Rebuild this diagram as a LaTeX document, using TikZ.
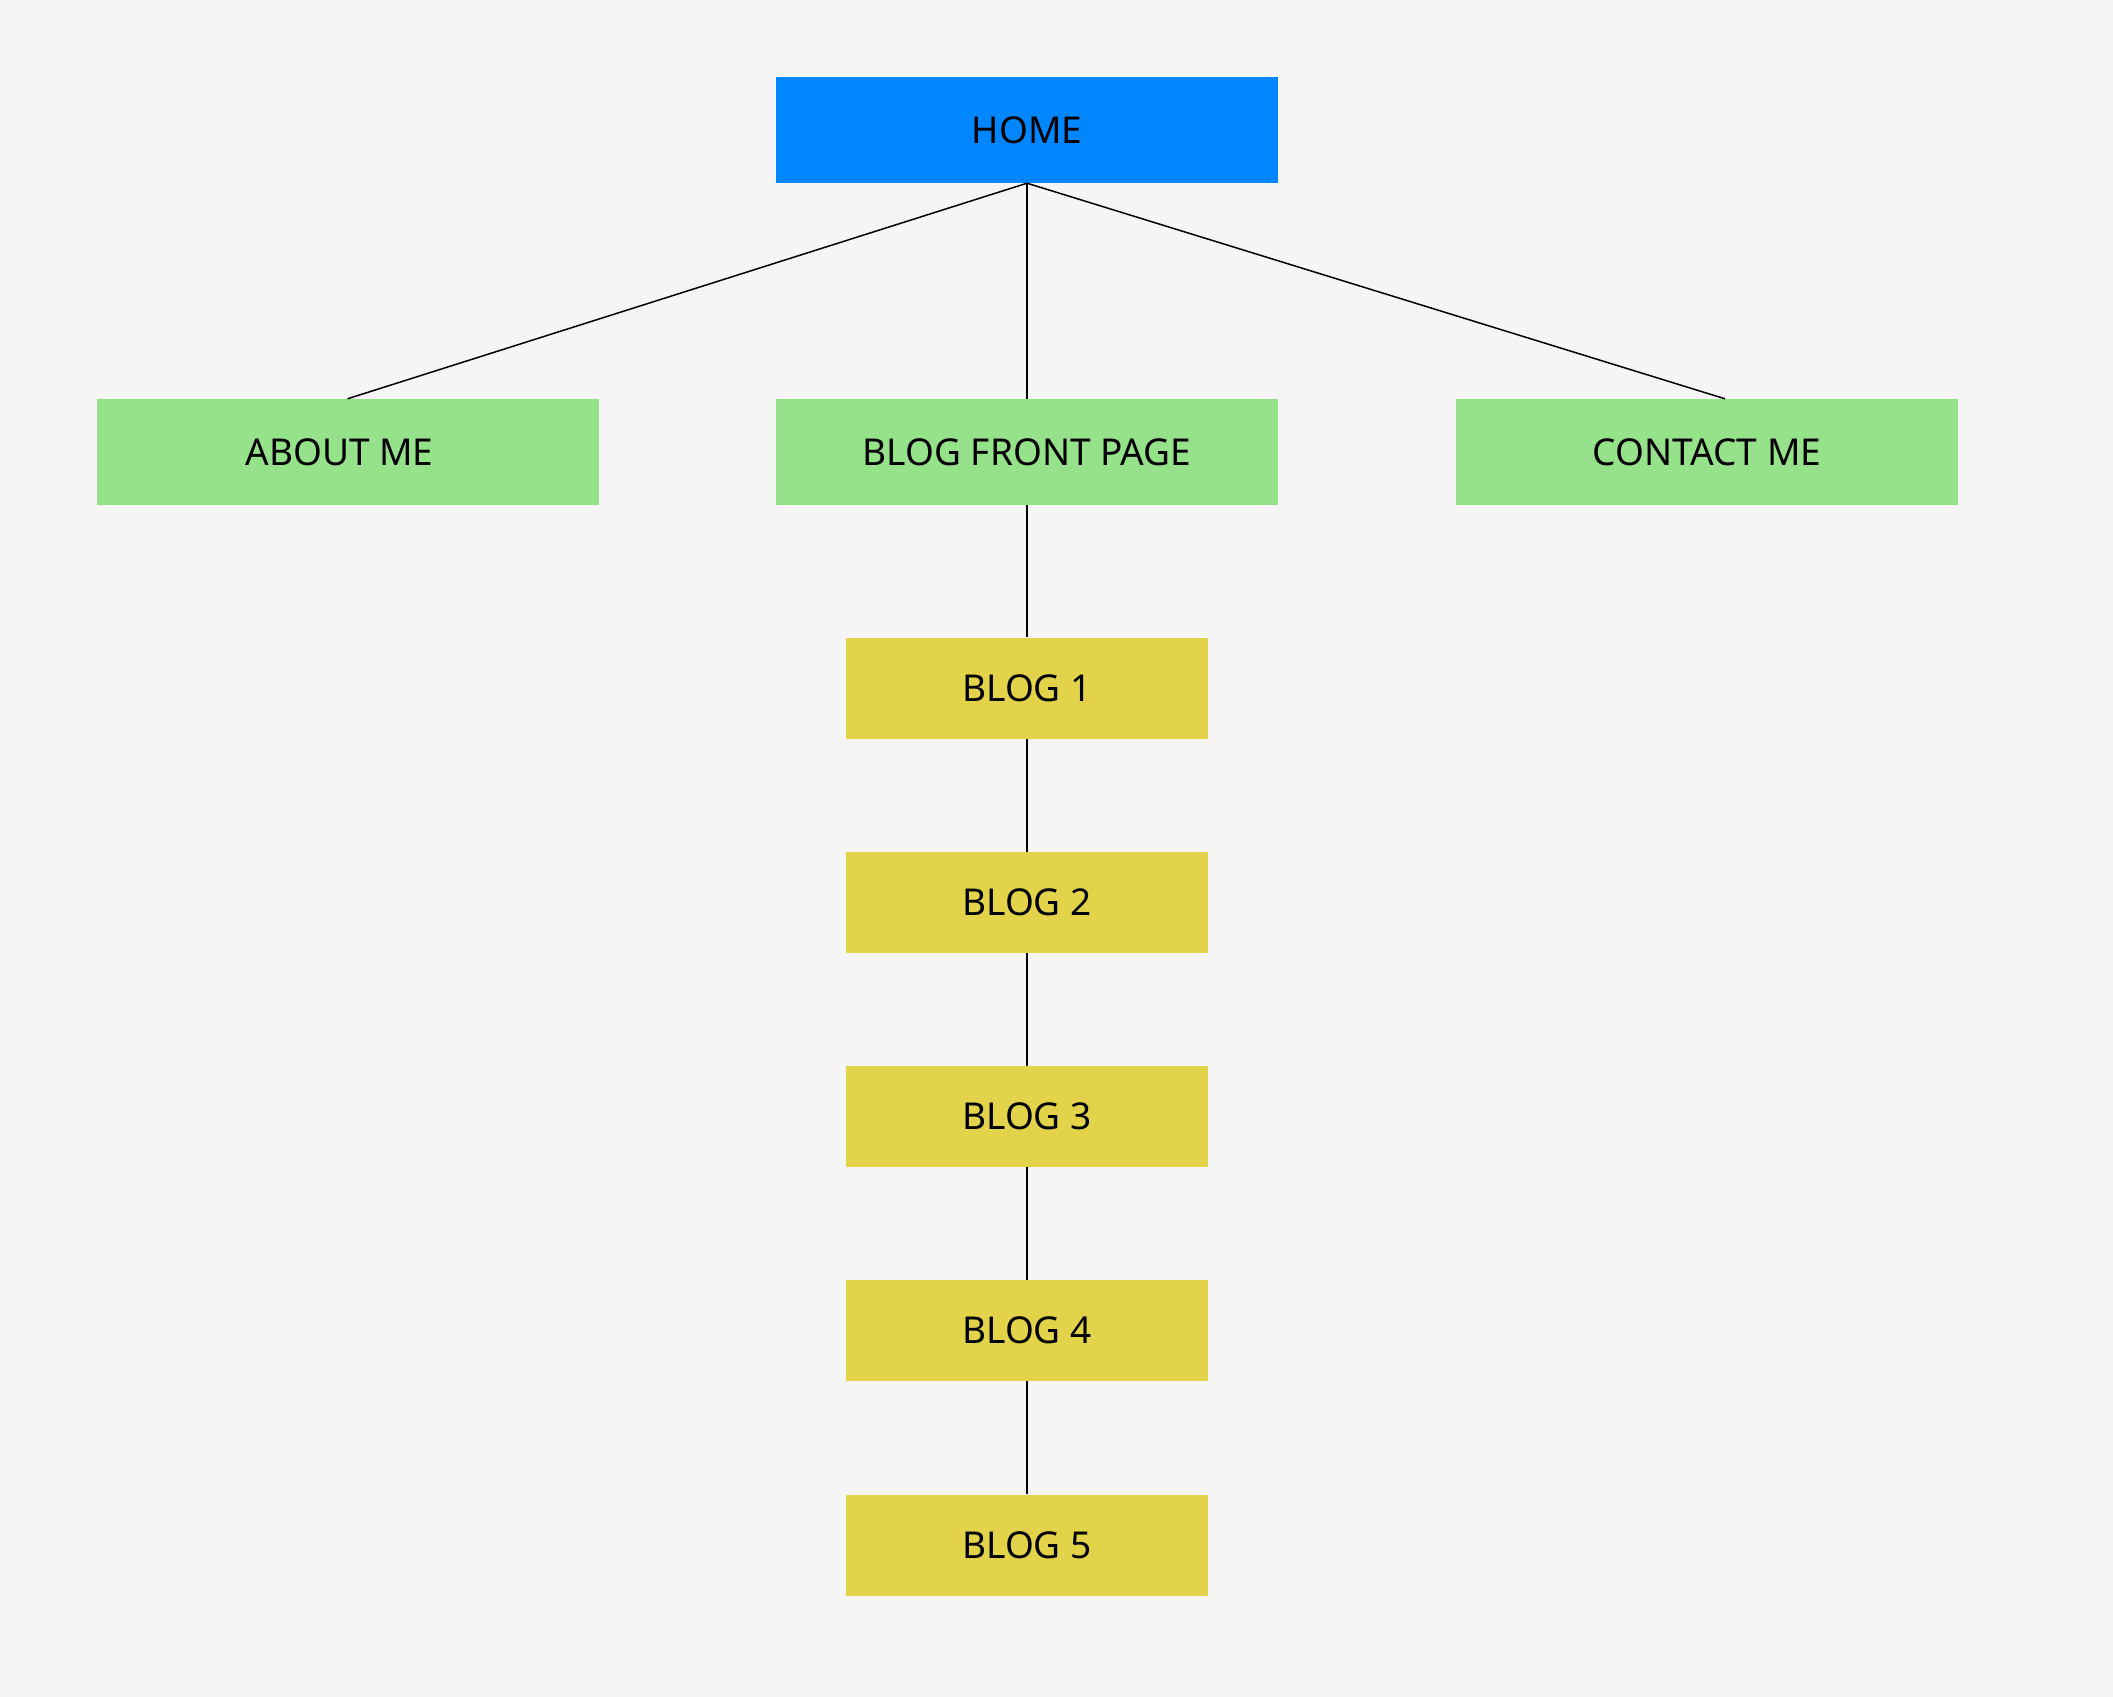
\documentclass[tikz,border=0pt]{standalone}
\usepackage{fontspec}
\setmainfont{Noto Sans}
\begin{document}
\begin{tikzpicture}[x=1pt,y=-1pt,
  box/.style={minimum height=106pt, minimum width=502pt, inner sep=0pt,
    font=\fontsize{37}{42}\selectfont, text=black},
  homebox/.style={box, fill=homeblue},
  pagebox/.style={box, fill=pagegreen},
  postbox/.style={box, fill=postyellow, minimum width=362pt, minimum height=101pt},
  link/.style={line width=1.5pt, draw=black}]
\definecolor{bg}{HTML}{F5F5F5}
\definecolor{homeblue}{HTML}{0086FF}
\definecolor{pagegreen}{HTML}{96E28A}
\definecolor{postyellow}{HTML}{E2D34A}
\fill[bg] (0,0) rectangle (2113,1697);
\useasboundingbox (0,0) rectangle (2113,1697);

\node[homebox] (home) at (1027,130) {HOME};
\node[pagebox] (about) at (347.5,452) {\hspace*{-16pt}ABOUT ME};
\node[pagebox] (front) at (1027,452) {BLOG FRONT PAGE};
\node[pagebox] (contact) at (1707,452) {CONTACT ME};
\node[postbox] (b1) at (1027,688) {BLOG 1};
\node[postbox] (b2) at (1027,902.5) {BLOG 2};
\node[postbox] (b3) at (1027,1116.5) {BLOG 3};
\node[postbox] (b4) at (1027,1330.5) {BLOG 4};
\node[postbox] (b5) at (1027,1545) {BLOG 5};

\coordinate (contacttop) at ([xshift=18pt]contact.north);
\draw[link] (home.south) -- (about.north);
\draw[link] (home.south) -- (front.north);
\draw[link] (home.south) -- (contacttop);
\draw[link] (front.south) -- (b1.north);
\draw[link] (b1.south) -- (b2.north);
\draw[link] (b2.south) -- (b3.north);
\draw[link] (b3.south) -- (b4.north);
\draw[link] (b4.south) -- (b5.north);
\end{tikzpicture}
\end{document}
